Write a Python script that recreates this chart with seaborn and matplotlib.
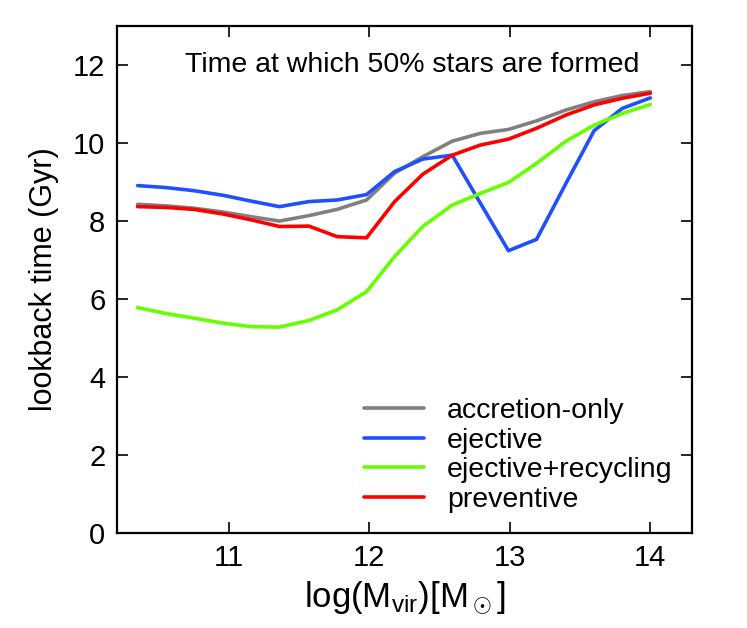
import numpy as np
import pandas as pd
import matplotlib
matplotlib.use("Agg")
import matplotlib.pyplot as plt
import seaborn as sns

# ── data ──
log_mvir = [10.35, 10.55, 10.75, 10.96, 11.16, 11.36, 11.57, 11.77, 11.98,
            12.18, 12.38, 12.59, 12.79, 12.99, 13.19, 13.40, 13.60, 13.80, 14.00]

accretion_only = [8.42, 8.38, 8.32, 8.22, 8.10, 7.99, 8.13, 8.29, 8.53,
                  9.22, 9.64, 10.04, 10.24, 10.34, 10.56, 10.84, 11.05, 11.21, 11.31]
ejective = [8.90, 8.85, 8.77, 8.65, 8.50, 8.36, 8.49, 8.53, 8.67,
            9.26, 9.58, 9.68, 8.45, 7.23, 7.52, 8.96, 10.31, 10.88, 11.15]
ejective_recycling = [5.77, 5.62, 5.50, 5.37, 5.28, 5.27, 5.44, 5.71, 6.18,
                      7.08, 7.85, 8.40, 8.70, 8.98, 9.47, 10.04, 10.45, 10.75, 10.98]
preventive = [8.36, 8.34, 8.29, 8.17, 8.02, 7.85, 7.86, 7.59, 7.56,
              8.49, 9.19, 9.68, 9.94, 10.09, 10.37, 10.71, 10.97, 11.14, 11.27]

models = ["accretion-only", "ejective", "ejective+recycling", "preventive"]
colors = ["#808080", "#1f4fff", "#66ff00", "#ff0000"]

df = pd.concat([
    pd.DataFrame({"mvir": log_mvir, "t50": vals, "model": name})
    for name, vals in zip(models, [accretion_only, ejective, ejective_recycling, preventive])
])

# ── style ──
sns.set_style("ticks", {"axes.edgecolor": "black", "text.color": "black",
                        "axes.labelcolor": "black", "xtick.color": "black",
                        "ytick.color": "black"})
plt.rcParams["font.family"] = ["Liberation Sans", "DejaVu Sans"]
plt.rcParams["mathtext.fontset"] = "custom"
plt.rcParams["mathtext.rm"] = "Liberation Sans"
plt.rcParams["mathtext.it"] = "Liberation Sans"

fig = plt.figure(figsize=(7.47, 6.28), dpi=100)
ax = fig.add_axes([0.156, 0.152, 0.771, 0.807])

sns.lineplot(data=df, x="mvir", y="t50", hue="model", hue_order=models,
             palette=colors, linewidth=2.6, sort=False, estimator=None, ax=ax)

ax.set_xlim(10.2, 14.3)
ax.set_ylim(0, 13)
ax.set_xticks([11, 12, 13, 14])
ax.set_yticks([0, 2, 4, 6, 8, 10, 12])
ax.tick_params(direction="in", top=True, right=True, length=8, width=1.2,
               labelsize=21, pad=8)
for sp in ax.spines.values():
    sp.set_linewidth(1.6)

ax.set_xlabel(r"log(M$_{\rm vir}$)[M$_\odot$]", fontsize=25, labelpad=6)
ax.set_ylabel("lookback time (Gyr)", fontsize=22, labelpad=10)

ax.text(0.513, 0.922, "Time at which 50% stars are formed", transform=ax.transAxes,
        ha="center", va="center", fontsize=20.5)

leg = ax.legend(loc="lower right", frameon=False, fontsize=20.5, handlelength=2.1,
                handletextpad=0.8, labelspacing=0.12, borderaxespad=0.3,
                bbox_to_anchor=(1.0, 0.0))
for line in leg.get_lines():
    line.set_linewidth(2.6)

fig.savefig("out.png", dpi=100)
